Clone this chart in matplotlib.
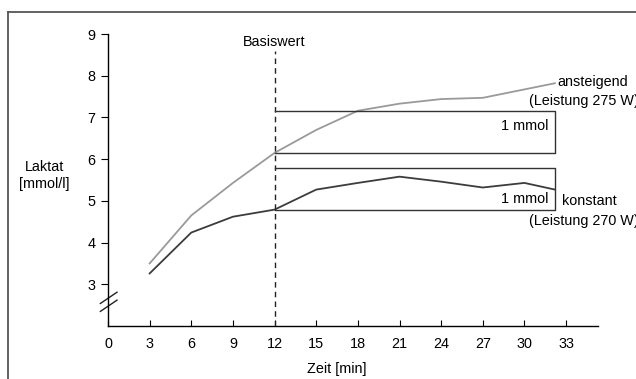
import matplotlib
matplotlib.use("Agg")
import matplotlib.pyplot as plt
from matplotlib.lines import Line2D

plt.rcParams['font.family'] = ['Liberation Sans', 'DejaVu Sans']
plt.rcParams['font.size'] = 10.4

# Laktatwerte im Dauertest
zeit_an = [3, 6, 9, 12, 15, 18, 21, 24, 27, 32.2]
laktat_an = [3.5, 4.65, 5.43, 6.15, 6.7, 7.16, 7.33, 7.44, 7.47, 7.82]
zeit_ko = [3, 6, 9, 12, 15, 18, 21, 24, 27, 30, 32.2]
laktat_ko = [3.26, 4.24, 4.62, 4.79, 5.27, 5.43, 5.58, 5.46, 5.32, 5.43, 5.27]

basis_zeit = 12
box_ende = 32.2
x_ticks = [0, 3, 6, 9, 12, 15, 18, 21, 24, 27, 30, 33]
y_ticks = [3, 4, 5, 6, 7, 8, 9]

W, H = 636, 379
fig = plt.figure(figsize=(W / 100, H / 100), dpi=100)

# Rahmen oben und links
fig.add_artist(Line2D([8 / W, 1], [1 - 12 / H, 1 - 12 / H], color='#555555', lw=1.3))
fig.add_artist(Line2D([8 / W, 8 / W], [0, 1 - 12 / H], color='#555555', lw=1.3))

ax = fig.add_axes([108 / W, 1 - 326 / H, 490 / W, 292 / H])
ax.set_xlim(0, 35.3)
ax.set_ylim(2.0, 9.0)
for s in ['top', 'right']:
    ax.spines[s].set_visible(False)
ax.spines['left'].set_linewidth(1)
ax.spines['bottom'].set_linewidth(1)
ax.set_xticks(x_ticks)
ax.set_yticks(y_ticks)
ax.tick_params(axis='x', direction='in', length=4, pad=8)
ax.tick_params(axis='y', direction='out', length=5, pad=4)
ax.patch.set_alpha(0)

ax.plot(zeit_an, laktat_an, color='#9a9a9a', lw=1.3, clip_on=False)
ax.plot(zeit_ko, laktat_ko, color='#3c3c3c', lw=1.3, clip_on=False)

# Basiswert-Linie
ax.plot([basis_zeit, basis_zeit], [2.0, 8.6], color='#222222', lw=1,
        ls=(0, (4, 3)))
ax.text(basis_zeit, 8.8, 'Basiswert', ha='center', va='center')

# 1-mmol-Kaesten ab Basiswert
for basis in (laktat_an[3], laktat_ko[3]):
    ax.plot([basis_zeit, box_ende, box_ende, basis_zeit],
            [basis, basis, basis + 1, basis + 1], color='#333333', lw=1,
            clip_on=False)
ax.text(box_ende - 0.5, laktat_an[3] + 0.65, '1 mmol', ha='right', va='center')
ax.text(box_ende - 0.5, laktat_ko[3] + 0.25, '1 mmol', ha='right', va='center')

ax.text(32.4, 7.84, 'ansteigend', ha='left', va='center')
ax.text(30.3, 7.39, '(Leistung 275 W)', ha='left', va='center')
ax.text(32.7, 5.0, 'konstant', ha='left', va='center')
ax.text(30.3, 4.52, '(Leistung 270 W)', ha='left', va='center')

ax.text(-4.6, 5.6, 'Laktat\n[mmol/l]', ha='center', va='center',
        linespacing=1.3)
ax.text(16.5, 0.97, 'Zeit [min]', ha='center', va='center')

# Achsenbruch
for dy in (0, 0.19):
    ax.plot([-0.55, 0.65], [2.35 + dy, 2.62 + dy], color='#222222', lw=1,
            clip_on=False)

fig.savefig('out.png', dpi=100)
